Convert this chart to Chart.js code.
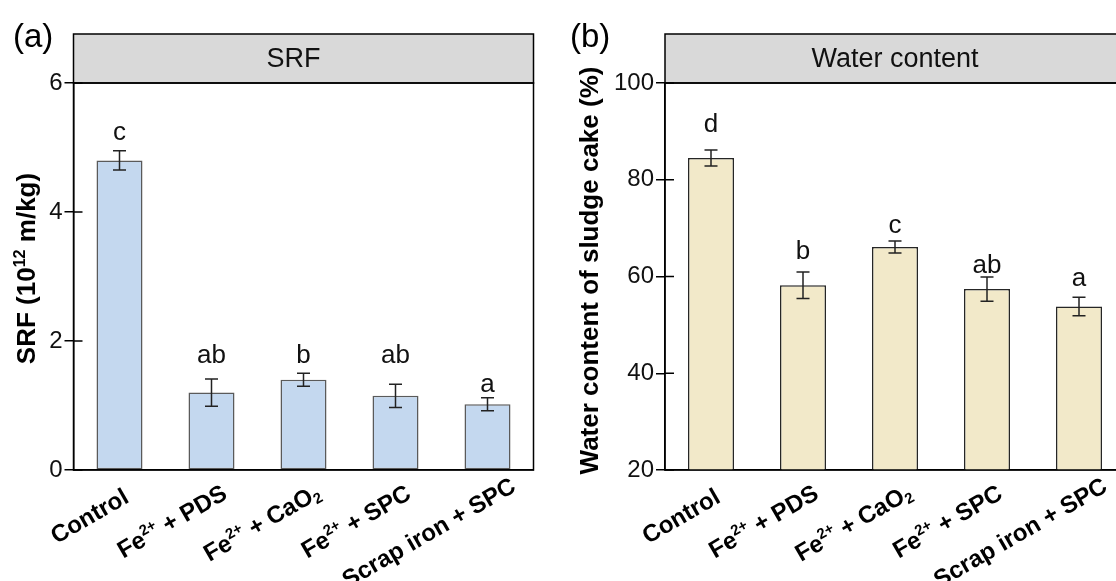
<!DOCTYPE html>
<html><head><meta charset="utf-8">
<script src="https://cdn.jsdelivr.net/npm/chart.js@4.4.1/dist/chart.umd.min.js"></script>
<style>
html,body{margin:0;padding:0;background:#fff;overflow:hidden;width:1116px;height:581px;}
#wa{position:absolute;left:0;top:0;}
#wb{position:absolute;left:556px;top:0;}
</style></head><body>
<div id="wa"><canvas id="ca" width="560" height="581"></canvas></div>
<div id="wb"><canvas id="cb" width="580" height="581"></canvas></div>
<script>
// ---------- data ----------
const categories = ["Control", "Fe^{2+} + PDS", "Fe^{2+} + CaO_{2}", "Fe^{2+} + SPC", "Scrap iron + SPC"];

const srfValues  = [4.80, 1.20, 1.40, 1.15, 1.02];
const srfErrors  = [0.15, 0.21, 0.10, 0.18, 0.10];
const srfLetters = ["c", "ab", "b", "ab", "a"];
const srfLetterY = [5.12, 1.66, 1.66, 1.66, 1.21];
const srfTicks   = [0, 2, 4, 6];

const waterValues  = [84.5, 58.2, 66.1, 57.4, 53.8];
const waterErrors  = [1.65, 2.75, 1.25, 2.5, 1.9];
const waterLetters = ["d", "b", "c", "ab", "a"];
const waterLetterY = [89.9, 63.6, 68.9, 60.7, 58.1];
const waterTicks   = [20, 40, 60, 80, 100];

// ---------- helpers ----------
const FONT = "'Liberation Sans', Arial, Helvetica, sans-serif";

function parseRich(s) {
  const segs = [];
  const re = /\^\{([^}]*)\}|_\{([^}]*)\}|([^^_]+)/g;
  let m;
  while ((m = re.exec(s))) {
    if (m[1] !== undefined) segs.push({ t: m[1], k: 'sup' });
    else if (m[2] !== undefined) segs.push({ t: m[2], k: 'sub' });
    else segs.push({ t: m[3], k: 'n' });
  }
  return segs;
}
function segFont(seg, size, weight) {
  const sz = seg.k === 'n' ? size : size * 0.62;
  return weight + ' ' + sz + 'px ' + FONT;
}
function measureRich(ctx, s, size, weight) {
  const segs = parseRich(s);
  let total = 0;
  segs.forEach(sg => { ctx.font = segFont(sg, size, weight); sg.w = ctx.measureText(sg.t).width; total += sg.w; });
  return { segs, total };
}
function drawRich(ctx, s, size, weight, startX) {
  const { segs } = measureRich(ctx, s, size, weight);
  let x = startX;
  ctx.textAlign = 'left';
  ctx.textBaseline = 'alphabetic';
  segs.forEach(sg => {
    ctx.font = segFont(sg, size, weight);
    const dy = sg.k === 'sup' ? -0.40 * size : (sg.k === 'sub' ? 0.16 * size : 0);
    ctx.fillText(sg.t, x, dy);
    x += sg.w;
  });
}

const panelPlugin = {
  id: 'panel',
  afterDraw(chart, args, o) {
    const ctx = chart.ctx;
    const ca = chart.chartArea;
    const xs = chart.scales.x, ys = chart.scales.y;
    ctx.save();
    // header strip
    ctx.fillStyle = '#d9d9d9';
    ctx.fillRect(ca.left, o.headerTop, ca.right - ca.left, ca.top - o.headerTop);
    ctx.lineWidth = 1.5;
    ctx.strokeStyle = '#000';
    ctx.strokeRect(ca.left, o.headerTop, ca.right - ca.left, ca.top - o.headerTop);
    ctx.fillStyle = '#111';
    ctx.font = '27px ' + FONT;
    ctx.textAlign = 'center';
    ctx.textBaseline = 'middle';
    ctx.fillText(o.header, (ca.left + ca.right) / 2 + o.headerShift, (o.headerTop + ca.top) / 2 + 1);
    // frame
    ctx.strokeRect(ca.left, ca.top, ca.right - ca.left, ca.bottom - ca.top);
    // inward ticks
    ctx.beginPath();
    ys.ticks.forEach(t => {
      const y = ys.getPixelForValue(t.value);
      ctx.moveTo(ca.left, y); ctx.lineTo(ca.left + 9, y);
    });
    ctx.stroke();
    // error bars
    const meta = chart.getDatasetMeta(0);
    const vals = chart.data.datasets[0].data;
    ctx.strokeStyle = '#222';
    ctx.lineWidth = 1.5;
    meta.data.forEach((bar, i) => {
      const x = bar.x;
      const yt = ys.getPixelForValue(vals[i] + o.errors[i]);
      const yb = ys.getPixelForValue(vals[i] - o.errors[i]);
      ctx.beginPath();
      ctx.moveTo(x, yt); ctx.lineTo(x, yb);
      ctx.moveTo(x - 6.5, yt); ctx.lineTo(x + 6.5, yt);
      ctx.moveTo(x - 6.5, yb); ctx.lineTo(x + 6.5, yb);
      ctx.stroke();
    });
    // significance letters
    ctx.fillStyle = '#111';
    ctx.font = '26px ' + FONT;
    ctx.textAlign = 'center';
    ctx.textBaseline = 'alphabetic';
    meta.data.forEach((bar, i) => {
      ctx.fillText(o.letters[i], bar.x, ys.getPixelForValue(o.letterY[i]));
    });
    // x category labels (rotated 30 deg, anchored at 80% of their length)
    chart.data.labels.forEach((lab, i) => {
      const x = xs.getPixelForValue(i);
      ctx.save();
      ctx.translate(x - 4, ca.bottom + 40);
      ctx.rotate(-Math.PI / 6);
      ctx.fillStyle = '#000';
      const m = measureRich(ctx, lab, 24, 'bold');
      drawRich(ctx, lab, 24, 'bold', -0.8 * m.total);
      ctx.restore();
    });
    // y title
    ctx.save();
    ctx.translate(o.yTitleX, (ca.top + ca.bottom) / 2 + o.yTitleShift);
    ctx.rotate(-Math.PI / 2);
    ctx.translate(0, 0.36 * 26);
    ctx.fillStyle = '#000';
    const mt = measureRich(ctx, o.yTitle, 26, 'bold');
    drawRich(ctx, o.yTitle, 26, 'bold', -mt.total / 2);
    ctx.restore();
    // panel label
    ctx.fillStyle = '#000';
    ctx.font = '33px ' + FONT;
    ctx.textAlign = 'left';
    ctx.textBaseline = 'alphabetic';
    ctx.fillText(o.panelLabel, o.panelLabelX, 47);
    ctx.restore();
  }
};

function makeChart(id, values, ticks, fill, border, axisWidth, rightPad, panelOpts) {
  const tmin = ticks[0], tmax = ticks[ticks.length - 1];
  return new Chart(document.getElementById(id), {
    type: 'bar',
    data: {
      labels: categories,
      datasets: [{
        data: values,
        backgroundColor: fill,
        borderColor: border,
        borderWidth: 1.5,
        borderSkipped: false,
        categoryPercentage: 1.0,
        barPercentage: 0.5
      }]
    },
    options: {
      responsive: false,
      animation: false,
      devicePixelRatio: 1,
      layout: { padding: { left: 0, right: rightPad, top: 83, bottom: 0 } },
      plugins: { legend: { display: false }, tooltip: { enabled: false }, panel: panelOpts },
      scales: {
        x: {
          grid: { display: false },
          border: { display: true, color: '#000', width: 1.5 },
          ticks: { display: false },
          afterFit(s) { s.height = 111; }
        },
        y: {
          min: tmin, max: tmax,
          afterBuildTicks(s) { s.ticks = ticks.map(v => ({ value: v })); },
          grid: { display: true, drawOnChartArea: false, drawTicks: true, tickLength: 9, color: '#000', lineWidth: 1.5 },
          border: { display: true, color: '#000', width: 1.5 },
          ticks: { padding: 2, color: '#111', font: { family: FONT, size: 24 } },
          afterFit(s) { s.width = axisWidth; }
        }
      }
    },
    plugins: [panelPlugin]
  });
}

makeChart('ca', srfValues, srfTicks, '#c4d8ef', '#5a5a5a', 73.5, 26.5, {
  header: 'SRF', headerShift: -10, headerTop: 34,
  errors: srfErrors, letters: srfLetters, letterY: srfLetterY,
  yTitle: 'SRF (10^{12} m/kg)', yTitleX: 26, yTitleShift: -8,
  panelLabel: '(a)', panelLabelX: 13
});
makeChart('cb', waterValues, waterTicks, '#f2e9c9', '#262626', 109, 11, {
  header: 'Water content', headerShift: 0, headerTop: 34,
  errors: waterErrors, letters: waterLetters, letterY: waterLetterY,
  yTitle: 'Water content of sludge cake (%)', yTitleX: 33, yTitleShift: -6,
  panelLabel: '(b)', panelLabelX: 14
});
</script>
</body></html>
